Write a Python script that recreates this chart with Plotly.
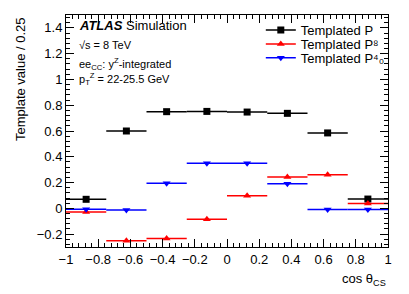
import plotly.graph_objects as go

bin_centers = [-0.875, -0.625, -0.375, -0.125, 0.125, 0.375, 0.625, 0.875]
bin_half_width = [0.125] * 8
p_black = [0.07, 0.60, 0.75, 0.752, 0.747, 0.737, 0.585, 0.072]
p_red = [-0.028, -0.252, -0.234, -0.084, 0.097, 0.244, 0.26, 0.037]
p_blue = [-0.008, -0.012, 0.195, 0.35, 0.35, 0.19, -0.01, -0.01]

series = [
    ("Templated P", p_black, "black", "square", "legend", 0.935),
    ("Templated P⁸", p_red, "red", "triangle-up", "legend2", 0.875),
    ("Templated P⁴₀", p_blue, "blue", "triangle-down", "legend3", 0.815),
]

FONT = "Liberation Sans, Arial, sans-serif"
fig = go.Figure()
for name, vals, col, sym, lg, ly in series:
    fig.add_trace(go.Scatter(
        x=bin_centers, y=vals, mode="markers", showlegend=False,
        marker=dict(color=col, symbol=sym, size=7),
        error_x=dict(type="data", array=bin_half_width, color=col, thickness=1.5, width=0),
    ))
for name, vals, col, sym, lg, ly in series:
    fig.add_trace(go.Scatter(
        x=[None], y=[None], mode="lines+markers", name=name, legend=lg,
        marker=dict(color=col, symbol=sym, size=7),
        line=dict(color=col, width=1.5),
    ))

axis_common = dict(
    ticks="inside", mirror="allticks", showline=True, linecolor="black", linewidth=1,
    showgrid=False, zeroline=False, ticklen=8, tickcolor="black",
    tickfont=dict(family=FONT, size=13, color="black"),
)
fig.update_xaxes(range=[-1, 1], dtick=0.2, tick0=-1, ticklabelstandoff=0,
                 minor=dict(dtick=0.04, ticks="inside", ticklen=4, tickcolor="black"),
                 **axis_common)
fig.update_yaxes(range=[-0.3, 1.5], dtick=0.2, tick0=0,
                 minor=dict(dtick=0.04, ticks="inside", ticklen=4, tickcolor="black"),
                 **axis_common)

legend_common = dict(x=0.605, xanchor="left", yanchor="middle",
                     bgcolor="rgba(0,0,0,0)", font=dict(family=FONT, size=13),
                     itemwidth=30)
fig.update_layout(
    width=409, height=294,
    margin=dict(l=66, r=21, t=15, b=47),
    paper_bgcolor="white", plot_bgcolor="white",
    font=dict(family=FONT, color="black"),
    legend=dict(y=series[0][5], **legend_common),
    legend2=dict(y=series[1][5], **legend_common),
    legend3=dict(y=series[2][5], **legend_common),
)

anns = [
    dict(text="<b><i>ATLAS</i></b> Simulation", x=0.035, y=0.955, size=13),
    dict(text="√s = 8 TeV", x=0.035, y=0.87, size=11),
    dict(text="ee<sub>CC</sub>: y<sup>Z</sup>-integrated", x=0.035, y=0.79, size=11),
    dict(text="p<sub>T</sub><sup>Z</sup> = 22-25.5 GeV", x=0.035, y=0.725, size=11),
]
for a in anns:
    fig.add_annotation(text=a["text"], x=a["x"], y=a["y"], xref="paper", yref="paper",
                       xanchor="left", yanchor="middle", showarrow=False,
                       font=dict(family=FONT, size=a["size"], color="black"))

fig.add_annotation(text="Template value / 0.25", textangle=-90, x=0, y=1,
                   xref="paper", yref="paper", xanchor="center", yanchor="top",
                   xshift=-46, showarrow=False,
                   font=dict(family=FONT, size=13, color="black"))
fig.add_annotation(text="cos θ<sub>CS</sub>", x=1, y=0, xref="paper", yref="paper",
                   xanchor="right", yanchor="top", yshift=-22, showarrow=False,
                   font=dict(family=FONT, size=13, color="black"))

fig.write_html("out.html", config={"displayModeBar": False},
               post_script="document.body.style.margin='0';")
